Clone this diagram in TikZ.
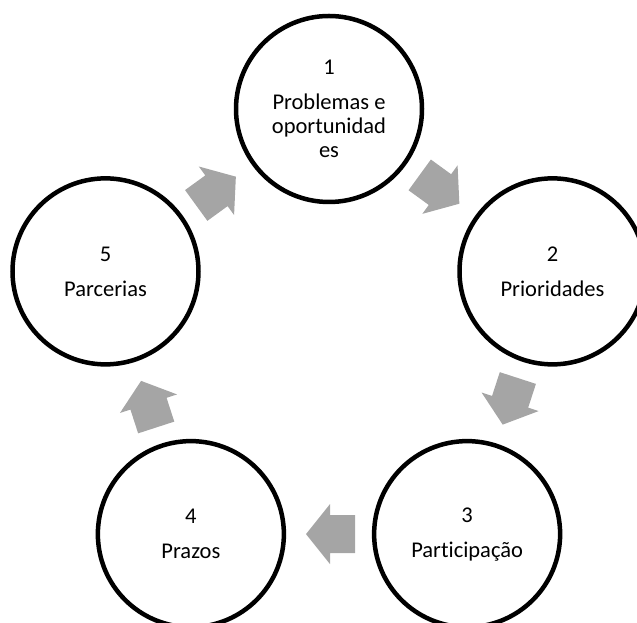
\documentclass[tikz,border=0pt]{standalone}
\usepackage{fontspec}
\setmainfont{Carlito}[Ligatures=NoCommon]
\usetikzlibrary{calc}
\definecolor{arrowgray}{RGB}{165,165,165}
\newcommand{\cyclearrow}[3]{
  \fill[arrowgray, shift={($(#1)!0.5!(#2)$)}, rotate=#3]
    (-26,-19) -- (-1,-19) -- (-1,-30) -- (23,0) -- (-1,30) -- (-1,19) -- (-26,19) -- cycle;
}

\begin{document}
\begin{tikzpicture}[x=1pt, y=1pt,
    stage/.style={draw, circle, line width=4.5pt, minimum size=186, align=center,
      font=\fontsize{22.5}{24}\selectfont}]
  \useasboundingbox (0,0) rectangle (637,623);
  \clip (0,0) rectangle (637,623);
  \foreach[count=\i] \txt in {{Problemas e\\oportunidad\\es}, Prioridades, Participação, Prazos, Parcerias} {
    \node[stage] (c\i) at ($(329,279) + ({162-72*\i}:235)$) {\i\\[11pt]\txt};
  }
  \foreach \i/\j in {1/2,2/3,3/4,4/5,5/1} {
    \cyclearrow{c\i}{c\j}{36-72*\i}
  }
\end{tikzpicture}
\end{document}
